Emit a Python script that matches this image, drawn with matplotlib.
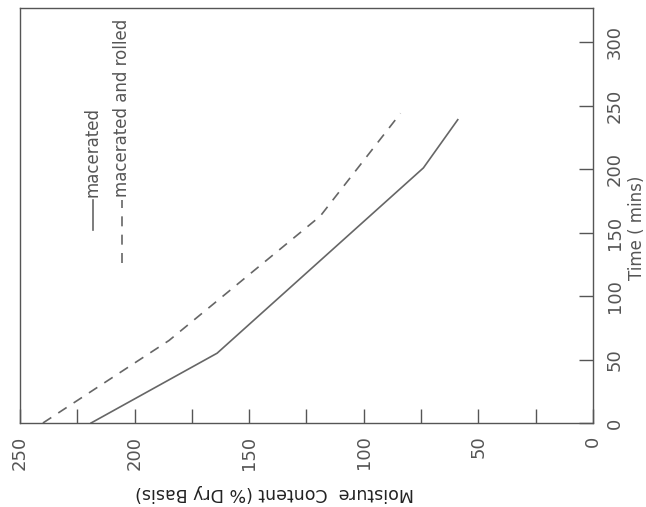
import matplotlib.pyplot as plt
from matplotlib.lines import Line2D
from matplotlib.ticker import MultipleLocator

time_mac = [0, 55, 201, 239]
moist_mac = [219, 164, 74, 59]

time_roll = [0, 65, 163, 244]
moist_roll = [240, 185, 119, 84]

label_mac = "macerated"
label_roll = "macerated and rolled"

line_c = "#666666"
text_c = "#555555"

fig = plt.figure(figsize=(6.46, 5.07), dpi=100)
ax = fig.add_axes([20 / 646, 84 / 507, 573 / 646, 415 / 507])

# chart is printed rotated: moisture runs along the bottom (reversed), time up the right
ax.plot(moist_mac, time_mac, color=line_c, lw=1.2)
ax.plot(moist_roll, time_roll, color=line_c, lw=1.2, dashes=(6, 5))

ax.set_xlim(250, 0)
ax.set_ylim(0, 327)

ax.xaxis.set_major_locator(MultipleLocator(50))
ax.xaxis.set_minor_locator(MultipleLocator(25))
ax.yaxis.set_major_locator(MultipleLocator(50))
ax.yaxis.tick_right()
ax.yaxis.set_label_position("right")

ax.tick_params(axis="x", which="both", direction="in", length=10, width=1,
               color=text_c, labelcolor=text_c, labelsize=13, pad=9,
               labelrotation=90)
ax.tick_params(axis="y", direction="in", length=10, width=1, color=text_c,
               labelcolor=text_c, labelsize=13, pad=9, labelrotation=90)
for t in ax.get_yticklabels():
    t.set_va("center")

for s in ax.spines.values():
    s.set_color(text_c)
    s.set_linewidth(1)

ax.set_xlabel("Moisture  Content (% Dry Basis)", rotation=180, fontsize=12.5,
              color="#222222")
ax.xaxis.set_label_coords(0.445, -0.169)
ax.xaxis.label.set_va("center")

ax.set_ylabel("Time ( mins)", rotation=90, fontsize=12, color=text_c)
ax.yaxis.set_label_coords(1.077, 0.47)
ax.yaxis.label.set_va("center")

# legend, drawn rotated like the rest of the page
ax.add_line(Line2D([0.127, 0.127], [0.465, 0.537], transform=ax.transAxes,
                   color=line_c, lw=1.2))
ax.text(0.127, 0.545, label_mac, transform=ax.transAxes, rotation=90,
        ha="center", va="bottom", fontsize=12, color=text_c)
ax.add_line(Line2D([0.178, 0.178], [0.386, 0.537], transform=ax.transAxes,
                   color=line_c, lw=1.2, dashes=(6, 5)))
ax.text(0.178, 0.545, label_roll, transform=ax.transAxes, rotation=90,
        ha="center", va="bottom", fontsize=12, color=text_c)

fig.savefig("out.png", dpi=100, facecolor="white")
